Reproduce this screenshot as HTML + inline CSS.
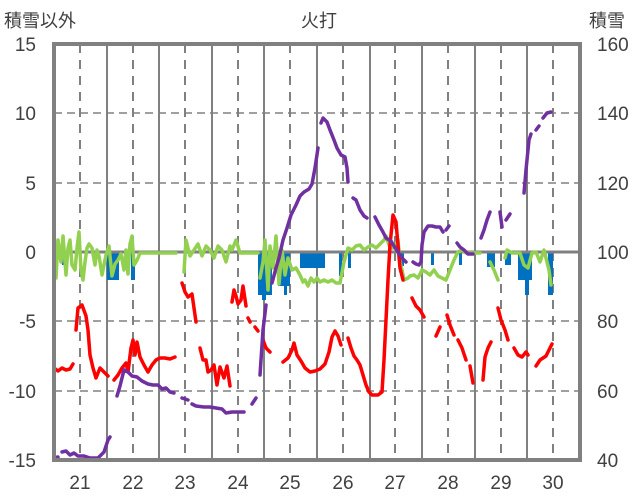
<!DOCTYPE html>
<html><head><meta charset="utf-8"><style>
html,body{margin:0;padding:0;background:#fff;}
svg{display:block;font-family:"Liberation Sans","Noto Sans CJK JP",sans-serif;}
</style></head><body>
<svg width="636" height="501" viewBox="0 0 636 501">
<g stroke="#bfbfbf" stroke-width="1.5">
<line x1="54" y1="113" x2="580" y2="113" stroke-dasharray="8,5" stroke="#808080"/>
<line x1="54" y1="183" x2="580" y2="183" stroke-dasharray="8,5" stroke="#808080"/>
<line x1="54" y1="321" x2="580" y2="321" stroke-dasharray="8,5" stroke="#808080"/>
<line x1="54" y1="391" x2="580" y2="391" stroke-dasharray="8,5" stroke="#808080"/>
</g>
<g stroke="#808080" stroke-width="2">
<line x1="107" y1="44" x2="107" y2="460"/><line x1="159" y1="44" x2="159" y2="460"/>
<line x1="212" y1="44" x2="212" y2="460"/><line x1="264" y1="44" x2="264" y2="460"/>
<line x1="317" y1="44" x2="317" y2="460"/><line x1="370" y1="44" x2="370" y2="460"/>
<line x1="422" y1="44" x2="422" y2="460"/><line x1="475" y1="44" x2="475" y2="460"/>
<line x1="527" y1="44" x2="527" y2="460"/>
</g>
<g stroke="#808080" stroke-width="2" stroke-dasharray="9,7">
<line x1="80" y1="44" x2="80" y2="460"/><line x1="133" y1="44" x2="133" y2="460"/>
<line x1="185" y1="44" x2="185" y2="460"/><line x1="238" y1="44" x2="238" y2="460"/>
<line x1="290" y1="44" x2="290" y2="460"/><line x1="343" y1="44" x2="343" y2="460"/>
<line x1="395" y1="44" x2="395" y2="460"/><line x1="448" y1="44" x2="448" y2="460"/>
<line x1="501" y1="44" x2="501" y2="460"/><line x1="553" y1="44" x2="553" y2="460"/>
</g>
<g fill="#0070c0">
<rect x="62" y="252" width="6" height="13"/>
<rect x="107" y="252" width="12" height="28"/><rect x="124" y="252" width="4" height="16"/><rect x="131" y="252" width="4" height="28"/>
<rect x="258" y="252" width="14" height="43"/><rect x="262" y="252" width="4" height="48"/>
<rect x="278" y="252" width="12" height="34"/><rect x="284" y="252" width="3" height="43"/>
<rect x="300" y="252" width="25" height="16"/><rect x="339" y="252" width="3" height="24"/><rect x="348" y="252" width="3" height="16"/>
<rect x="400" y="252" width="4" height="14"/><rect x="431" y="252" width="3" height="13"/><rect x="459" y="252" width="3" height="13"/>
<rect x="487" y="252" width="8" height="15"/><rect x="505" y="252" width="6" height="13"/>
<rect x="518" y="252" width="14" height="28"/><rect x="525" y="252" width="4" height="43"/><rect x="548" y="252" width="5" height="43"/>
</g>
<line x1="54" y1="252" x2="580" y2="252" stroke="#808080" stroke-width="3"/>
<g fill="none" stroke-width="3.5" stroke-linejoin="round" stroke-linecap="round">
<g stroke="#92d050">
<polyline points="54,232 56,278 58,240 61,262 63,236 66,275 68,248 70,240 72,265 75,270 77,248 79,232 81,270 83,280 85,262 87,248 89,244 92,248 95,265 97,250 99,256 102,275 104,265 106,255 109,246 112,276 115,264 118,260 121,254 124,270 126,250 128,274 130,244 132,236 134,265 136,262 138,258 140,253 176,253"/>
<polyline points="184,272 186,240 190,256 194,250 198,244 202,256 206,246 210,250 214,258 218,246 222,250 226,262 230,246 232,250 236,240 240,253 258,253"/>
<polyline points="260,278 263,262 265,240 268,290 270,246 273,268 276,236 279,284 282,250 285,275 288,258 292,270 296,268 300,275 303,282 305,280 308,286 311,278 314,282 317,278 320,282 324,280 328,282 332,280 336,283 340,283 344,262 348,248 352,250 356,246 360,245 364,250 368,247 372,245 376,248 380,244 384,240 386,236 388,242 390,248 394,248 398,240 400,262 402,270 404,280 408,278 410,276 414,275 418,278 422,270 426,272 430,275 434,270 438,276 442,278 446,280 450,270 454,260 458,252 462,250 466,253 480,253"/>
<polyline points="490,262 494,270 498,280"/>
<polyline points="505,258 507,250 512,253 520,253 524,265 528,268 532,253 536,252 540,262 544,250 546,258 549,270 551,285"/>
</g>
<g stroke="#ff0000">
<polyline points="54,368 58,371 62,368 66,370 70,369 73,364"/>
<polyline points="76,330 78,308 82,305 86,316 88,330 90,355 93,368 96,378 100,368 104,372 108,376"/>
<polyline points="114,380 118,375 122,368 126,363 128,372 131,348 133,340 135,355 137,342 140,357 144,365 148,372 152,365 156,360 160,358 165,358 170,359 175,357"/>
<polyline points="182,283 185,292 188,297 192,294 196,322"/>
<polyline points="200,348 203,360 206,360 208,372 211,370 214,365 217,385 220,367 224,378 227,366 230,386"/>
<polyline points="232,302 234,290 236,296 238,304 241,300 243,286 246,306"/>
<polyline points="248,318 250,322"/><polyline points="255,327 258,331"/>
<polyline points="263,340 266,348 270,352"/>
<polyline points="283,362 288,358 292,350 294,343 297,355 301,361 305,368 310,372 315,371 320,369 325,364 329,352 332,337 335,331 338,336 341,345"/>
<polyline points="348,338 351,348 354,356 357,360 360,365 363,375 366,385 369,392 372,395 378,395 382,392 384,360 386,320 388,280 390,245 393,215 396,222 398,245 400,268 403,280"/>
<polyline points="412,298 416,306 420,310 424,317"/>
<polyline points="436,336 440,327"/><polyline points="447,315 450,325 454,335"/><polyline points="458,340 462,348 466,360"/>
<polyline points="470,366 473,383"/>
<polyline points="483,380 485,357 488,348 491,342"/>
<polyline points="498,308 501,320 505,330 508,340"/><polyline points="514,348 518,355 522,357 526,352 528,355"/>
<polyline points="536,366 540,360 546,356 549,350 552,344"/>
</g>
<g stroke="#7030a0">
<polyline points="54,458 58,457"/><polyline points="62,452 66,451 70,455 74,453 78,456 84,456 90,458 98,458 104,452 108,440 110,437"/>
<polyline points="117,396 120,386 124,370 128,372 132,376 137,377 142,381 148,384 153,385 158,385 162,389 166,388 170,392 174,393"/>
<polyline points="182,398 188,400"/><polyline points="192,404 196,406 204,407 210,407 216,408 222,409 226,413 232,412 238,412 244,412"/>
<polyline points="252,404 256,398"/>
<polyline points="260,375 263,330 266,305"/>
<polyline points="272,283 276,268 279,258 283,240 287,228 291,215 296,205 300,196 304,192 309,189 312,184 315,168 318,148"/>
<polyline points="321,123 323,118 327,122 330,130 334,140 337,148 341,155 345,157 347,168 348,182"/>
<polyline points="353,198 356,200 360,210 364,216 367,218"/>
<polyline points="375,217 379,225 383,232 386,238 391,241 394,246 398,252 402,258 406,262"/>
<polyline points="413,262 416,264 419,265 421,262 422,245 424,232 428,226 432,226 436,227 440,227 443,232"/>
<polyline points="446,230 449,226"/><polyline points="457,243 460,247 464,250 468,254 473,254"/>
<polyline points="481,238 484,230 487,220 490,212"/><polyline points="500,212 502,227"/><polyline points="506,220 510,214"/>
<polyline points="524,193 526,170 529,140 531,134"/><polyline points="536,130 539,126"/><polyline points="543,118 547,113 551,112"/>
</g>
</g>
<rect x="54" y="44" width="526" height="416" fill="none" stroke="#808080" stroke-width="4"/>
<g fill="#404040" font-size="19" text-anchor="end">
<text x="36" y="51">15</text><text x="36" y="120">10</text><text x="36" y="190">5</text><text x="36" y="259">0</text>
<text x="36" y="328">-5</text><text x="36" y="398">-10</text><text x="36" y="467">-15</text>
</g>
<g fill="#404040" font-size="19" text-anchor="start">
<text x="597" y="51">160</text><text x="597" y="120">140</text><text x="597" y="190">120</text><text x="597" y="259">100</text>
<text x="597" y="328">80</text><text x="597" y="398">60</text><text x="597" y="467">40</text>
</g>
<g fill="#404040" font-size="19" text-anchor="middle">
<text x="80" y="489">21</text><text x="133" y="489">22</text><text x="185" y="489">23</text><text x="238" y="489">24</text>
<text x="290" y="489">25</text><text x="343" y="489">26</text><text x="395" y="489">27</text><text x="448" y="489">28</text>
<text x="501" y="489">29</text><text x="553" y="489">30</text>
</g>
<g fill="#404040" font-size="18">
<text x="4" y="27">積雪以外</text>
<text x="319" y="27" text-anchor="middle">火打</text>
<text x="589" y="27">積雪</text>
</g>
</svg>
</body></html>
